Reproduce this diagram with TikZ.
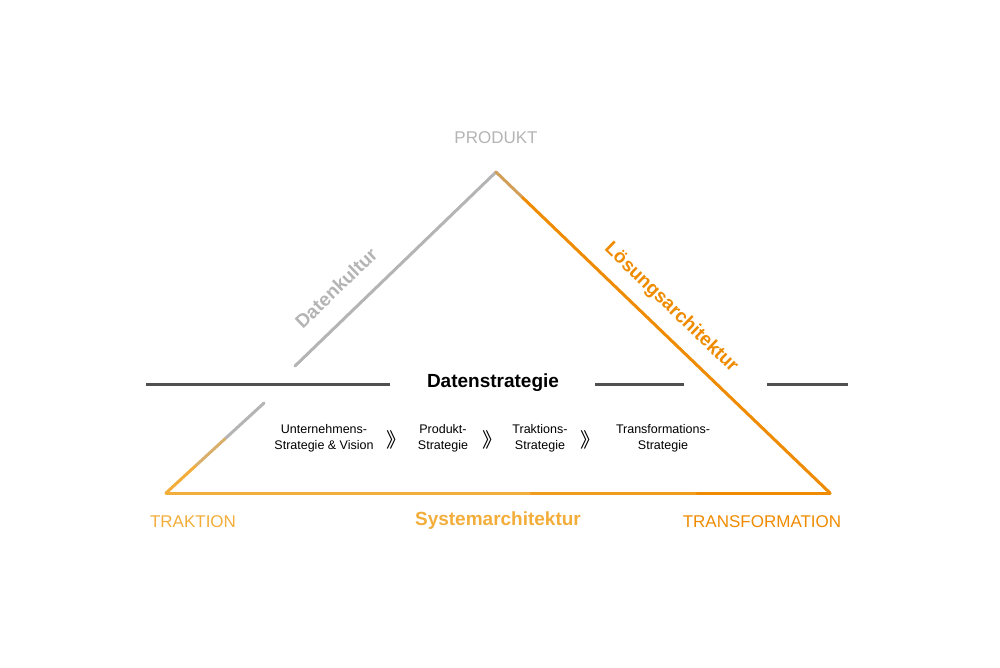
\documentclass[tikz,border=0pt]{standalone}
\usepackage{fontspec}
\setmainfont{Liberation Sans}
\newfontfamily\cjkfont{Noto Sans CJK SC}
\usetikzlibrary{calc}
\definecolor{edgegray}{HTML}{B4B4B4}
\definecolor{lightorange}{HTML}{F2AD3A}
\definecolor{darkorange}{HTML}{EF8B00}
\definecolor{linegray}{HTML}{505050}
\tikzset{
  edge/.style={line width=3pt, line cap=round},
  corner/.style={font=\fontsize{17}{20}\selectfont},
  side/.style={font=\fontsize{19}{22}\selectfont\bfseries},
  stage/.style={font=\fontsize{12.5}{16}\selectfont, align=center},
  chev/.style={font=\cjkfont\fontsize{20}{22}\selectfont}
}
\begin{document}
\begin{tikzpicture}[x=1pt,y=-1pt]
    \useasboundingbox (0,0) rectangle (1000,667);
    \coordinate (apex) at (496,172);
    \coordinate (left) at (166,493);
    \coordinate (right) at (830,493);
    \coordinate (lefttop) at (295,366);
    \coordinate (leftlow) at (264,403);

    % triangle edges
    \draw[edge, edgegray] (apex) -- (lefttop);
    \draw[edge, edgegray] (leftlow) -- ($(leftlow)!0.4!(left)$);
    \draw[edge, lightorange!60!edgegray] ($(leftlow)!0.4!(left)$) -- ($(leftlow)!0.7!(left)$);
    \draw[edge, lightorange] ($(leftlow)!0.7!(left)$) -- (left);
    \draw[edge, edgegray!50!darkorange] (apex) -- ($(apex)!0.08!(right)$);
    \draw[edge, darkorange] ($(apex)!0.08!(right)$) -- (right);
    \draw[edge, lightorange] (left) -- ($(left)!0.55!(right)$);
    \draw[edge, lightorange!50!darkorange] ($(left)!0.55!(right)$) -- ($(left)!0.8!(right)$);
    \draw[edge, darkorange] ($(left)!0.8!(right)$) -- (right);

    % strategy line
    \node[font=\fontsize{19}{22}\selectfont\bfseries] (strat) at (493,383) {Datenstrategie};
    \draw[edge, linegray, line cap=butt] (146,384) -- (390,384);
    \draw[edge, linegray, line cap=butt] (595,384) -- (684,384);
    \draw[edge, linegray, line cap=butt] (767,384) -- (848,384);

    % corners and sides
    \node[corner, edgegray] (produkt) at (496,138) {PRODUKT};
    \node[corner, lightorange] (traktion) at (193,522) {TRAKTION};
    \node[corner, darkorange] (transf) at (762,522) {TRANSFORMATION};
    \node[side, lightorange] (system) at (498,521) {Systemarchitektur};
    \node[side, edgegray, rotate=44] (kultur) at (336,288) {Datenkultur};
    \node[side, darkorange, rotate=-44] (loesung) at (671,308) {Lösungsarchitektur};

    % stages
    \node[stage] (s1) at (324,438) {Unternehmens-\\Strategie \& Vision};
    \node[stage] (s2) at (443,438) {Produkt-\\Strategie};
    \node[stage] (s3) at (540,438) {Traktions-\\Strategie};
    \node[stage] (s4) at (663,438) {Transformations-\\Strategie};
    \node[chev] at (396,440) {》};
    \node[chev] at (492,440) {》};
    \node[chev] at (590,440) {》};
\end{tikzpicture}
\end{document}
